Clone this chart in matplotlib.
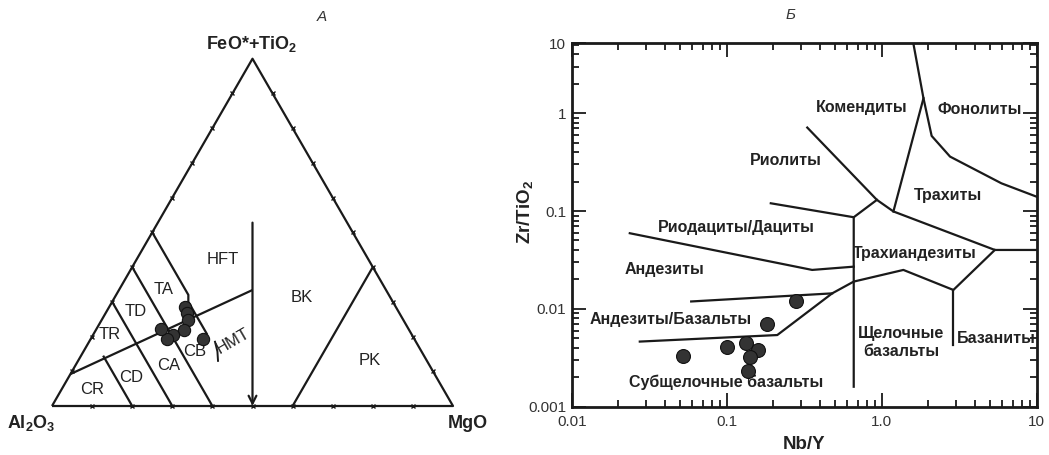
import numpy as np
import matplotlib
matplotlib.use('Agg')
import matplotlib.pyplot as plt

plt.rcParams['font.family'] = ['Liberation Sans', 'DejaVu Sans']
plt.rcParams['mathtext.fontset'] = 'custom'
plt.rcParams['mathtext.rm'] = 'Liberation Sans'
plt.rcParams['mathtext.bf'] = 'Liberation Sans:bold'
plt.rcParams['mathtext.it'] = 'Liberation Sans:italic'

# ---------------- data: ternary (Al2O3, FeO*+TiO2, MgO), % ----------------
tri_al = [52.6, 53.1, 53.7, 56.2, 59.5, 61.6, 61.7, 52.7]
tri_fe = [28.4, 26.7, 24.7, 22.0, 20.5, 19.2, 22.2, 19.4]
tri_mg = [19.0, 20.2, 21.6, 21.8, 20.0, 19.2, 16.1, 27.9]

# boundaries of the Jensen diagram (Al, Fe, Mg)
tri_ca_th = [(90.8, 9.2, 0), (33.3, 33.4, 33.3)]
tri_cr_cd = [(80, 14.5, 5.5), (80, 0, 20)]
tri_al70 = [(70, 30, 0), (70, 0, 30)]
tri_al60 = [(60, 40, 0), (60, 0, 40)]
tri_ta_cb = [(50, 50, 0), (50, 32, 18), (51, 30, 19), (51, 20.5, 28.5)]
tri_hmt = [(50.1, 18.5, 31.4), (50.9, 15.7, 33.4), (52.1, 13.0, 34.9)]
tri_pk = [(40, 0, 60), (0, 40, 60)]
tri_arrow = [(23.6, 52.8, 23.6), (50, 0, 50)]

# ---------------- data: Nb/Y vs Zr/TiO2 ----------------
nb_y = [0.279, 0.182, 0.133, 0.100, 0.160, 0.142, 0.052, 0.138]
zr_ti = [0.0120, 0.0070, 0.0045, 0.0041, 0.0038, 0.0032, 0.0033, 0.0023]

y_top = 5.18
b_phon = [(1.60, y_top), (1.86, 1.42), (2.10, 0.586), (2.76, 0.36), (5.92, 0.192), (10, 0.140)]
b_kom = [(1.86, 1.42), (1.19, 0.099)]
b_rhy = [(0.331, 0.713), (0.931, 0.130), (1.19, 0.099), (5.37, 0.040), (10, 0.040)]
b_rhy2 = [(0.931, 0.130), (0.66, 0.0864)]
b_rhd = [(0.1925, 0.120), (0.66, 0.0864), (0.66, 0.0016)]
b_and = [(0.0237, 0.0593), (0.356, 0.025), (0.66, 0.027)]
b_sub = [(0.0275, 0.00463), (0.212, 0.0054), (0.479, 0.0144), (0.66, 0.019),
         (1.38, 0.025), (2.90, 0.0156), (5.37, 0.040)]
b_bas = [(2.90, 0.0156), (2.90, 0.00428)]
b_ab = [(0.059, 0.0119), (0.479, 0.0144)]


def tern(al, fe, mg):
    al, fe, mg = np.asarray(al, float), np.asarray(fe, float), np.asarray(mg, float)
    s = al + fe + mg
    fe, mg = fe / s, mg / s
    return mg + fe / 2, fe * np.sqrt(3) / 2


def tline(ax, pts, **kw):
    a, f, m = zip(*pts)
    x, y = tern(a, f, m)
    ax.plot(x, y, color='#1a1a1a', lw=1.6, solid_capstyle='butt', **kw)


fig = plt.figure(figsize=(10.49, 4.55), dpi=100)

# -------------------- A: ternary --------------------
ax1 = fig.add_axes([0, 0, 520 / 1049, 1])
ax1.set_xlim(-52 / 401, 468 / 401)
ax1.set_ylim(-49 / 401, 406 / 401)
ax1.axis('off')

tline(ax1, [(100, 0, 0), (0, 0, 100), (0, 100, 0), (100, 0, 0)])
for ln in [tri_ca_th, tri_cr_cd, tri_al70, tri_al60, tri_ta_cb, tri_pk]:
    tline(ax1, ln)
a, f, m = zip(*tri_hmt)
hx, hy = tern(a, f, m)
ax1.plot(hx, hy, color='#1a1a1a', lw=1.4)

a, f, m = zip(*tri_arrow)
ax_, ay_ = tern(a, f, m)
ax1.annotate('', xy=(ax_[1], ay_[1]), xytext=(ax_[0], ay_[0]),
             arrowprops=dict(arrowstyle='->', lw=1.6, color='#1a1a1a', mutation_scale=14,
                             shrinkA=0, shrinkB=0))

# small ticks on sides every 10 %
k = np.arange(10, 100, 10)
for tx, ty in [tern(100 - k, 0 * k, k), tern(100 - k, k, 0 * k), tern(0 * k, k, 100 - k)]:
    ax1.plot(tx, ty, 'x', color='#1a1a1a', ms=3, mew=1)

px, py = tern(tri_al, tri_fe, tri_mg)
ax1.scatter(px, py, s=78, color='#333333', edgecolor='#111111', lw=0.8, zorder=5)

lab = dict(fontsize=12, color='#222222', ha='center', va='center')


def pix(x, y):
    return (x - 52) / 401, (406 - y) / 401


for txt, (x, y) in [('HFT', (222.7, 259.3)), ('TA', (163.3, 289.3)), ('TD', (136, 311.7)),
                    ('TR', (109.3, 334.3)), ('CR', (91.7, 390)), ('CD', (131, 377.3)),
                    ('CA', (168.3, 365.7)), ('CB', (194.3, 351.7)), ('BK', (301.7, 297.7)),
                    ('PK', (370, 360.7))]:
    ax1.text(*pix(x, y), txt, **lab)
ax1.text(*pix(232.5, 340.7), 'HMT', rotation=30, **lab)

ax1.text(*pix(252, 44), 'FeO*+TiO$_\\mathbf{2}$', fontsize=13, fontweight='bold',
         ha='center', va='center', color='#222222')
ax1.text(*pix(31, 423), 'Al$_\\mathbf{2}$O$_\\mathbf{3}$', fontsize=13, fontweight='bold',
         ha='center', va='center', color='#222222')
ax1.text(*pix(468, 423), 'MgO', fontsize=13, fontweight='bold',
         ha='center', va='center', color='#222222')

fig.text(322 / 1049, 1 - 17 / 455, 'А', fontsize=11, style='italic', color='#333333',
         ha='center', va='center')

# -------------------- Б: Nb/Y - Zr/TiO2 --------------------
ax2 = fig.add_axes([571.7 / 1049, 48.3 / 455, 465 / 1049, 363.4 / 455])
ax2.set_xscale('log')
ax2.set_yscale('log')
ax2.set_xlim(0.01, 10)
ax2.set_ylim(0.001, y_top)

for ln in [b_phon, b_kom, b_rhy, b_rhy2, b_rhd, b_and, b_sub, b_bas, b_ab]:
    xs, ys = zip(*ln)
    ax2.plot(xs, ys, color='#1a1a1a', lw=1.6)

ax2.scatter(nb_y, zr_ti, s=100, color='#333333', edgecolor='#111111', lw=0.8, zorder=5)

ax2.set_xticks([0.01, 0.1, 1, 10])
ax2.set_xticklabels(['0.01', '0.1', '1.0', '10'])
ax2.set_yticks([0.001, 0.01, 0.1, 1, y_top])
ax2.set_yticklabels(['0.001', '0.01', '0.1', '1', '10'])
ax2.tick_params(which='both', direction='in', top=True, right=True, width=1.3,
                labelsize=11, labelcolor='#333333', colors='#1a1a1a')
ax2.tick_params(which='major', length=10, pad=6)
ax2.tick_params(which='minor', length=5)
ax2.tick_params(axis='y', which='major', pad=4)
for sp in ax2.spines.values():
    sp.set_linewidth(2)
    sp.set_color('#1a1a1a')

ax2.set_xlabel('Nb/Y', fontsize=13.5, fontweight='bold', color='#222222', labelpad=5)
fig.text(525 / 1049, 1 - 212 / 455, 'Zr/TiO$_\\mathbf{2}$', fontsize=13.5, fontweight='bold',
         color='#222222', rotation=90, ha='center', va='center')

bl = dict(fontsize=11.5, fontweight='bold', color='#222222', ha='center', va='center')
ax2.text(0.746, 1.15, 'Комендиты', **bl)
ax2.text(4.30, 1.08, 'Фонолиты', **bl)
ax2.text(0.240, 0.327, 'Риолиты', **bl)
ax2.text(2.69, 0.1426, 'Трахиты', **bl)
ax2.text(0.1148, 0.0682, 'Риодациты/Дациты', **bl)
ax2.text(0.0397, 0.025, 'Андезиты', **bl)
ax2.text(1.64, 0.037, 'Трахиандезиты', **bl)
ax2.text(0.0438, 0.0077, 'Андезиты/Базальты', **bl)
ax2.text(1.34, 0.00563, 'Щелочные', **bl)
ax2.text(1.34, 0.00365, 'базальты', **bl)
ax2.text(3.04, 0.0050, 'Базаниты', fontsize=11.5, fontweight='bold', color='#222222',
         ha='left', va='center')
ax2.text(0.099, 0.00178, 'Субщелочные базальты', **bl)

fig.text(790 / 1049, 1 - 15 / 455, 'Б', fontsize=11, style='italic', color='#333333',
         ha='center', va='center')

fig.savefig('out.png', dpi=100)
